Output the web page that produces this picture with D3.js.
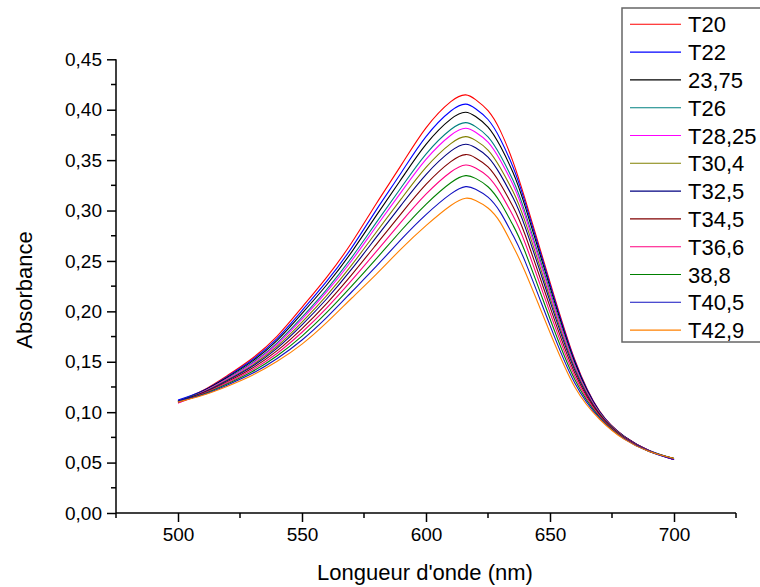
<!DOCTYPE html>
<html>
<head>
<meta charset="utf-8">
<script src="https://cdn.jsdelivr.net/npm/d3@7"></script>
<style>
  html, body { margin: 0; padding: 0; background: #fff; }
  svg { display: block; font-family: "Liberation Sans", Arial, sans-serif; }
</style>
</head>
<body>
<svg id="chart" width="760" height="587"></svg>
<script>
// ---- data ----
const wavelengths = [500,510,520,530,540,550,560,570,580,590,600,610,616,620,625,630,635,640,650,660,670,680,690,700];

const seriesNames = ["T20","T22","23,75","T26","T28,25","T30,4","T32,5","T34,5","T36,6","38,8","T40,5","T42,9"];

const t20   = [0.111,0.1215,0.1365,0.1535,0.1755,0.204,0.234,0.268,0.307,0.345,0.382,0.408,0.4147,0.410,0.399,0.379,0.349,0.311,0.229,0.152,0.101,0.076,0.062,0.053];
const t22   = [0.112,0.1212,0.1355,0.1520,0.1733,0.2007,0.2299,0.263,0.3007,0.3375,0.3733,0.3987,0.4055,0.401,0.3903,0.3708,0.3437,0.3079,0.2268,0.1508,0.1007,0.076,0.062,0.054];
const t2375 = [0.110,0.1208,0.1347,0.1506,0.1713,0.1979,0.2264,0.2588,0.2952,0.3311,0.3657,0.3907,0.3975,0.3932,0.3828,0.3637,0.3382,0.3039,0.2241,0.1493,0.1002,0.0757,0.0618,0.053];
const t26   = [0.111,0.1203,0.1337,0.1490,0.1688,0.1942,0.2219,0.2533,0.2882,0.3228,0.3560,0.3804,0.3872,0.3832,0.3731,0.3546,0.3305,0.2980,0.2200,0.1471,0.0996,0.0755,0.0617,0.054];
const t2825 = [0.109,0.1200,0.1331,0.1481,0.1674,0.1922,0.2195,0.2502,0.2844,0.3182,0.3507,0.3747,0.3816,0.3777,0.3678,0.3496,0.3261,0.2944,0.2175,0.1458,0.0992,0.0753,0.0616,0.053];
const t304  = [0.110,0.1196,0.1322,0.1467,0.1654,0.1893,0.2158,0.2458,0.2787,0.3115,0.3428,0.3664,0.3733,0.3696,0.3600,0.3422,0.3194,0.2888,0.2136,0.1437,0.0985,0.0751,0.0615,0.054];
const t325  = [0.111,0.1192,0.1314,0.1455,0.1636,0.1866,0.2125,0.2418,0.2736,0.3054,0.3357,0.3589,0.3658,0.3623,0.3530,0.3356,0.3131,0.2835,0.2099,0.1417,0.0979,0.0749,0.0614,0.053];
const t345  = [0.110,0.1187,0.1303,0.1438,0.1610,0.1829,0.2080,0.2362,0.2665,0.2970,0.3259,0.3485,0.3555,0.3522,0.3432,0.3264,0.3043,0.2757,0.2045,0.1388,0.0971,0.0745,0.0613,0.054];
const t366  = [0.109,0.1182,0.1292,0.1421,0.1585,0.1793,0.2035,0.2307,0.2595,0.2887,0.3162,0.3382,0.3452,0.3422,0.3336,0.3173,0.2953,0.2676,0.1988,0.1357,0.0962,0.0742,0.0612,0.053];
const t388  = [0.110,0.1177,0.1281,0.1403,0.1560,0.1755,0.1989,0.2250,0.2523,0.2802,0.3062,0.3276,0.3346,0.3319,0.3236,0.3079,0.2858,0.2588,0.1927,0.1324,0.0952,0.0738,0.0611,0.054];
const t405  = [0.111,0.1172,0.1270,0.1385,0.1533,0.1716,0.1940,0.2192,0.2448,0.2713,0.2959,0.3165,0.3237,0.3212,0.3133,0.2982,0.2758,0.2493,0.1861,0.1289,0.0941,0.0734,0.061,0.053];
const t429  = [0.110,0.1168,0.1258,0.1366,0.1505,0.1675,0.189,0.213,0.237,0.262,0.285,0.305,0.3122,0.310,0.3025,0.288,0.265,0.239,0.179,0.125,0.093,0.073,0.061,0.054];

const seriesValues = [t20,t22,t2375,t26,t2825,t304,t325,t345,t366,t388,t405,t429];

const xMajorTicks = [500,550,600,650,700];
const xMinorTicks = [475,525,575,625,675,725];
const yMajorTicks = [0,0.05,0.10,0.15,0.20,0.25,0.30,0.35,0.40,0.45];
const yMinorTicks = [0.025,0.075,0.125,0.175,0.225,0.275,0.325,0.375,0.425];

const xTitle = "Longueur d'onde (nm)";
const yTitle = "Absorbance";

// ---- styles ----
const colors = ["#ff0000","#0000ff","#000000","#008080","#ff00ff","#808000","#000080","#800000","#ff0080","#008000","#1010c0","#ff8000"];

const svg = d3.select("#chart");
const x = d3.scaleLinear().domain([475, 725]).range([116, 736]);
const y = d3.scaleLinear().domain([0, 0.45]).range([513, 59.3]);

const fmt = d => d3.format(".2f")(d).replace(".", ",");

// curves
const line = d3.line()
  .x((d, i) => x(wavelengths[i]))
  .y(d => y(d))
  .curve(d3.curveNatural);

const gLines = svg.append("g");
seriesValues.forEach((vals, k) => {
  gLines.append("path")
    .attr("d", line(vals))
    .attr("fill", "none")
    .attr("stroke", colors[k])
    .attr("stroke-width", 1.1);
});

// x axis
const xAxis = svg.append("g").attr("transform", `translate(0,${y(0)})`);
xAxis.call(d3.axisBottom(x).tickValues(xMajorTicks).tickSize(9).tickPadding(6).tickFormat(d3.format("d")));
xAxis.append("g").selectAll("line").data(xMinorTicks).join("line")
  .attr("x1", d => x(d)).attr("x2", d => x(d)).attr("y1", 0).attr("y2", 5)
  .attr("stroke", "#000").attr("stroke-width", 1.5);
xAxis.select(".domain").attr("d", `M${x(475)},0H${x(725)}`).attr("stroke-width", 1.5);
xAxis.selectAll(".tick line").attr("stroke-width", 1.5);
xAxis.selectAll(".tick text").attr("font-size", 19).attr("font-family", "Liberation Sans, Arial, sans-serif").attr("fill", "#000");

// y axis
const yAxis = svg.append("g").attr("transform", `translate(${x(475)},0)`);
yAxis.call(d3.axisLeft(y).tickValues(yMajorTicks).tickSize(9).tickPadding(5).tickFormat(fmt));
yAxis.append("g").selectAll("line").data(yMinorTicks).join("line")
  .attr("y1", d => y(d)).attr("y2", d => y(d)).attr("x1", 0).attr("x2", -5)
  .attr("stroke", "#000").attr("stroke-width", 1.5);
yAxis.select(".domain").attr("d", `M0,${y(0.45)}V${y(0)}`).attr("stroke-width", 1.5);
yAxis.selectAll(".tick line").attr("stroke-width", 1.5);
yAxis.selectAll(".tick text").attr("font-size", 19).attr("font-family", "Liberation Sans, Arial, sans-serif").attr("fill", "#000");

// axis titles
svg.append("text")
  .attr("x", 425).attr("y", 580)
  .attr("text-anchor", "middle")
  .attr("font-size", 22)
  .text(xTitle);

svg.append("text")
  .attr("transform", `translate(32,290) rotate(-90)`)
  .attr("text-anchor", "middle")
  .attr("font-size", 22)
  .text(yTitle);

// legend
const legend = svg.append("g");
legend.append("rect")
  .attr("x", 622).attr("y", 8).attr("width", 160).attr("height", 334)
  .attr("fill", "#fff").attr("stroke", "#666").attr("stroke-width", 1.5);
seriesNames.forEach((name, k) => {
  const ly = 24.3 + k * 27.8;
  legend.append("line")
    .attr("x1", 630).attr("x2", 681).attr("y1", ly).attr("y2", ly)
    .attr("stroke", colors[k]).attr("stroke-width", 1.1);
  legend.append("text")
    .attr("x", 688).attr("y", ly + 8)
    .attr("font-size", 22)
    .text(name);
});
</script>
</body>
</html>
